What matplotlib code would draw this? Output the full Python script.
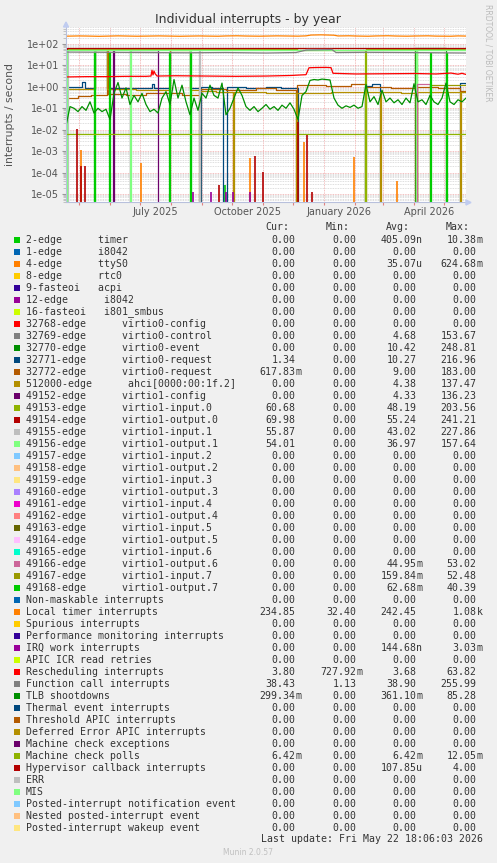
import numpy as np
import matplotlib
matplotlib.use("Agg")
import matplotlib.pyplot as plt
from matplotlib.patches import Rectangle
from matplotlib.ticker import FixedLocator, NullFormatter, FuncFormatter

W, H = 497, 863

# ---------------- legend table ----------------
names = [
    "2-edge      timer", "1-edge      i8042", "4-edge      ttyS0", "8-edge      rtc0",
    "9-fasteoi   acpi", "12-edge      i8042", "16-fasteoi   i801_smbus",
    "32768-edge      virtio0-config", "32769-edge      virtio0-control",
    "32770-edge      virtio0-event", "32771-edge      virtio0-request",
    "32772-edge      virtio0-request", "512000-edge      ahci[0000:00:1f.2]",
    "49152-edge      virtio1-config", "49153-edge      virtio1-input.0",
    "49154-edge      virtio1-output.0", "49155-edge      virtio1-input.1",
    "49156-edge      virtio1-output.1", "49157-edge      virtio1-input.2",
    "49158-edge      virtio1-output.2", "49159-edge      virtio1-input.3",
    "49160-edge      virtio1-output.3", "49161-edge      virtio1-input.4",
    "49162-edge      virtio1-output.4", "49163-edge      virtio1-input.5",
    "49164-edge      virtio1-output.5", "49165-edge      virtio1-input.6",
    "49166-edge      virtio1-output.6", "49167-edge      virtio1-input.7",
    "49168-edge      virtio1-output.7",
    "Non-maskable interrupts", "Local timer interrupts", "Spurious interrupts",
    "Performance monitoring interrupts", "IRQ work interrupts", "APIC ICR read retries",
    "Rescheduling interrupts", "Function call interrupts", "TLB shootdowns",
    "Thermal event interrupts", "Threshold APIC interrupts",
    "Deferred Error APIC interrupts", "Machine check exceptions", "Machine check polls",
    "Hypervisor callback interrupts", "ERR", "MIS",
    "Posted-interrupt notification event", "Nested posted-interrupt event",
    "Posted-interrupt wakeup event",
]

palette = ["#00CC00", "#0066B3", "#FF8000", "#FFCC00", "#330099", "#990099", "#CCFF00",
           "#FF0000", "#808080", "#008F00", "#00487D", "#B35A00", "#B38F00", "#6B006B",
           "#8FB300", "#B30000", "#BEBEBE", "#80FF80", "#80C9FF", "#FFC080", "#FFE680",
           "#AA80FF", "#EE00CC", "#FF8080", "#666600", "#FFBFFF", "#00FFCC", "#CC6699",
           "#999900"]

cur = ["0.00", "0.00", "0.00", "0.00", "0.00", "0.00", "0.00", "0.00", "0.00", "0.00",
       "1.34", "617.83m", "0.00", "0.00", "60.68", "69.98", "55.87", "54.01", "0.00", "0.00",
       "0.00", "0.00", "0.00", "0.00", "0.00", "0.00", "0.00", "0.00", "0.00", "0.00",
       "0.00", "234.85", "0.00", "0.00", "0.00", "0.00", "3.80", "38.43", "299.34m", "0.00",
       "0.00", "0.00", "0.00", "6.42m", "0.00", "0.00", "0.00", "0.00", "0.00", "0.00"]
mins = ["0.00"] * 31 + ["32.40", "0.00", "0.00", "0.00", "0.00", "727.92m", "1.13"] + ["0.00"] * 12
avgs = ["405.09n", "0.00", "35.07u", "0.00", "0.00", "0.00", "0.00", "0.00", "4.68", "10.42",
        "10.27", "9.00", "4.38", "4.33", "48.19", "55.24", "43.02", "36.97", "0.00", "0.00",
        "0.00", "0.00", "0.00", "0.00", "0.00", "0.00", "0.00", "44.95m", "159.84m", "62.68m",
        "0.00", "242.45", "0.00", "0.00", "144.68n", "0.00", "3.68", "38.90", "361.10m", "0.00",
        "0.00", "0.00", "0.00", "6.42m", "107.85u", "0.00", "0.00", "0.00", "0.00", "0.00"]
maxs = ["10.38m", "0.00", "624.68m", "0.00", "0.00", "0.00", "0.00", "0.00", "153.67", "248.81",
        "216.96", "183.00", "137.47", "136.23", "203.56", "241.21", "227.86", "157.64", "0.00",
        "0.00", "0.00", "0.00", "0.00", "0.00", "0.00", "0.00", "0.00", "53.02", "52.48", "40.39",
        "0.00", "1.08k", "0.00", "0.00", "3.03m", "0.00", "63.82", "255.99", "85.28", "0.00",
        "0.00", "0.00", "0.00", "12.05m", "4.00", "0.00", "0.00", "0.00", "0.00", "0.00"]

# ---------------- time axis (days since graph start) ----------------
start = np.datetime64("2025-04-17T18:06")
month_starts = np.array(["2025-05-01", "2025-06-01", "2025-07-01", "2025-08-01", "2025-09-01",
                         "2025-10-01", "2025-11-01", "2025-12-01", "2026-01-01", "2026-02-01",
                         "2026-03-01", "2026-04-01", "2026-05-01"], dtype="datetime64[m]")
label_dates = np.array(["2025-07-16", "2025-10-16", "2026-01-16", "2026-04-16"], dtype="datetime64[m]")
label_texts = ["July 2025", "October 2025", "January 2026", "April 2026"]

# ---------------- series (x = days since start) ----------------
# Local timer interrupts
ltimer_x = [0, 12, 20, 33, 40, 52, 60, 71, 80, 93, 100, 114, 120, 133, 140, 152, 160, 171, 180,
            193, 200, 211, 220, 232, 240, 245, 255, 268, 272, 283, 290, 302, 310, 322, 330, 341,
            350, 362, 370, 385, 392, 400]
ltimer_y = [232, 238, 236, 229, 233, 240, 236, 231, 234, 239, 236, 230, 233, 238, 235, 231, 238,
            242, 236, 232, 235, 240, 237, 233, 240, 262, 268, 258, 238, 242, 236, 231, 238, 243,
            236, 232, 237, 241, 234, 231, 239, 235]

# Rescheduling interrupts
resched_x = [0, 20, 40, 60, 80, 85, 86, 87, 88, 89, 91, 110, 140, 170, 200, 225, 240, 243, 250,
             260, 265, 267, 290, 320, 350, 370, 385, 392, 396, 400]
resched_y = [2.9, 3.0, 3.0, 3.1, 3.1, 3.2, 6.0, 3.6, 5.5, 4.2, 3.2, 3.3, 3.2, 3.1, 3.2, 3.4, 3.7,
             7.8, 8.0, 8.1, 7.9, 4.3, 4.0, 4.1, 4.2, 4.0, 4.4, 3.9, 4.3, 3.8]

# Function call interrupts
fcall_x = [0, 40, 80, 120, 160, 200, 230, 240, 266, 270, 300, 340, 370, 400]
fcall_y = [42, 41, 40, 39, 40, 38, 40, 52, 55, 40, 41, 40, 39, 38]

# TLB shootdowns (sampled every 4 days)
tlb_x = list(range(0, 401, 4))
tlb_y = [0.015, 0.12, 0.1, 0.07, 0.12, 0.08, 0.2, 0.06, 0.1, 0.07, 0.09, 0.03, 0.5, 1.6, 0.3, 0.9,
         0.15, 0.4, 0.2, 0.5, 0.15, 0.07, 0.09, 0.06, 0.3, 0.6, 0.15, 2.2, 0.3, 1.2, 0.2, 0.05,
         0.3, 0.08, 0.5, 0.3, 1.2, 0.4, 0.3, 1.5, 0.05, 0.1, 0.3, 0.9, 0.4, 0.12, 0.08, 0.12,
         0.07, 0.1, 0.15, 0.09, 0.12, 0.08, 0.14, 0.1, 0.18, 0.09, 0.03, 0.4, 0.6, 2.0, 2.2, 2.1,
         2.3, 2.2, 2.1, 0.3, 0.14, 0.1, 0.13, 0.11, 0.14, 0.1, 0.12, 1.3, 0.2, 0.35, 0.15, 0.7,
         0.2, 0.3, 0.18, 0.25, 0.15, 0.3, 0.18, 1.4, 0.2, 0.25, 0.15, 0.4, 0.2, 0.15, 0.3, 1.5,
         0.2, 0.15, 0.25, 0.2, 0.3]

# Machine check polls
mcpoll_x = [0, 400]
mcpoll_y = [0.0064, 0.0064]

# virtio queues (step series)
in0_x = [0, 1, 120, 231, 299, 300, 350, 351, 400]
in0_y = [0, 56, 58, 55, 0, 58, 0, 60, 61]
out0_x = [0, 1, 80, 160, 240, 266, 320, 400]
out0_y = [0, 62, 64, 62, 68, 66, 68, 70]
in1_x = [0, 2, 133, 134, 240, 266, 400]
in1_y = [0, 50, 0, 52, 56, 54, 56]
out1_x = [0, 1, 28, 29, 64, 65, 124, 125, 350, 351, 400]
out1_y = [0, 52, 0, 50, 0, 52, 0, 50, 0, 54, 54]
out7_x = [0, 28, 29, 43, 44, 103, 104, 124, 125, 364, 365, 380, 381, 400]
out7_y = [0, 40, 0, 40, 0, 40, 0, 40, 0, 40, 0, 40, 0, 0]
cfg1_x = [0, 47, 48, 64, 92, 400]
cfg1_y = [0, 55, 0, 55, 0, 0]
req1_x = [0, 10, 16, 19, 29, 41, 55, 70, 86, 88, 104, 124, 134, 135, 146, 157, 161, 180, 200,
          215, 232, 299, 306, 314, 394, 400]
req1_y = [1.0, 0.95, 1.7, 0.9, 58, 0.9, 0.85, 0.92, 1.3, 0.88, 58, 0.9, 0, 0.95, 0.88, 0, 0.95,
          0.9, 0.97, 0.92, 0, 1.1, 1.4, 0, 1.5, 1.34]
req2_x = [0, 12, 25, 41, 42, 60, 80, 100, 116, 134, 160, 190, 210, 230, 231, 260, 285, 300, 325,
          350, 351, 372, 394, 400]
req2_y = [0.3, 0.36, 0.42, 50, 0.45, 0.4, 0.5, 0.5, 0.42, 0.8, 0.72, 0.85, 0.75, 0, 1.2, 1.05,
          1.3, 1.0, 0.9, 0, 1.0, 0.85, 0.62, 0.62]
ahci_x = [0, 1, 29, 41, 70, 104, 124, 133, 134, 150, 167, 168, 200, 230, 231, 265, 299, 300, 314,
          315, 335, 350, 351, 394, 395, 400]
ahci_y = [0, 0.8, 55, 0.8, 0.7, 55, 0.75, 0, 0.65, 0.6, 0, 0.55, 0.5, 0, 0.5, 0.6, 0, 0.55, 0,
          0.55, 0.5, 0, 0.6, 0, 0.55, 0.55]
event_x = [0, 349, 380, 400]
event_y = [0, 65, 0, 0]
out6_x = [0, 351, 364, 400]
out6_y = [0, 1.3, 0, 0]
in7_x = [0, 364, 400]
in7_y = [0, 1.2, 1.2]

# short spikes near the bottom
hyper_x = [10.5, 14.7, 19, 153, 189, 197, 232, 241, 246]
hyper_y = [0.0105, 2e-4, 2e-4, 2.6e-5, 5.9e-4, 1.1e-4, 0.023, 5.5e-3, 1.3e-5]
tty_x = [15, 75, 184, 238, 288, 331]
tty_y = [1.1e-3, 2.8e-4, 5e-4, 2.8e-3, 5.5e-4, 4e-5]
irqwork_x = [127, 145, 160, 167, 184]
irqwork_y = [1.3e-5, 1.3e-5, 1.3e-5, 1.3e-5, 1.3e-5]
timer_x = [159]
timer_y = [2.6e-5]


def fx(px):
    return px / W


def fy(py):
    return 1 - py / H


def col(i):
    return palette[i % len(palette)]


fig = plt.figure(figsize=(W / 100, H / 100), dpi=100, facecolor="#F0F0F0")
ax = fig.add_axes([fx(66), fy(202.5), 400 / W, 175 / H])
ax.set_facecolor("white")
ax.set_yscale("log", nonpositive="clip")
ax.set_xlim(0, 400)
ax.set_ylim(4.0e-6, 590)

# grid
dec = [10.0 ** k for k in range(-5, 3)]
minor = [m * 10.0 ** k for k in range(-6, 3) for m in range(2, 10)]
for v in minor:
    ax.axhline(v, color="#d4d4d4", lw=0.6, ls=(0, (1, 1)), zorder=0)
for v in dec:
    ax.axhline(v, color="#f0a8a8", lw=0.6, ls=(0, (1, 1)), zorder=0)
ms_days = (month_starts - start) / np.timedelta64(1, "D")
for d in ms_days:
    ax.axvline(d, color="#f0a8a8", lw=0.6, ls=(0, (1, 1)), zorder=0)

lw = 0.9
step_series = [
    (9, event_x, event_y), (10, req1_x, req1_y), (11, req2_x, req2_y), (12, ahci_x, ahci_y),
    (13, cfg1_x, cfg1_y), (14, in0_x, in0_y), (15, out0_x, out0_y), (16, in1_x, in1_y),
    (17, out1_x, out1_y), (27, out6_x, out6_y), (28, in7_x, in7_y), (29, out7_x, out7_y),
]
line_series = [
    (31, ltimer_x, ltimer_y), (36, resched_x, resched_y), (37, fcall_x, fcall_y),
    (38, tlb_x, tlb_y), (43, mcpoll_x, mcpoll_y),
]
spike_series = [(0, timer_x, timer_y), (2, tty_x, tty_y), (34, irqwork_x, irqwork_y),
                (44, hyper_x, hyper_y)]

items = [(i, x, y, "s") for i, x, y in step_series] + \
        [(i, x, y, "l") for i, x, y in line_series] + \
        [(i, x, y, "v") for i, x, y in spike_series]
items.sort(key=lambda t: t[0])
for i, x, y, kind in items:
    if kind == "s":
        ax.plot(x, y, color=col(i), lw=lw, drawstyle="steps-post", zorder=2)
    elif kind == "l":
        ax.plot(x, y, color=col(i), lw=lw, zorder=2)
    else:
        ax.vlines(x, 1e-9, y, color=col(i), lw=1.2, zorder=2)

# axes styling
for s in ["top", "right"]:
    ax.spines[s].set_visible(False)
for s in ["left", "bottom"]:
    ax.spines[s].set_color("#b8c0dc")
    ax.spines[s].set_linewidth(0.8)
ax.yaxis.set_major_locator(FixedLocator(dec))
ax.yaxis.set_major_formatter(FuncFormatter(lambda v, p: "%.0e" % v))
ax.yaxis.set_minor_locator(FixedLocator(minor))
ax.yaxis.set_minor_formatter(NullFormatter())
ax.tick_params(axis="y", which="major", length=3, color="#999999", labelsize=7, labelcolor="#555555", pad=2)
ax.tick_params(axis="y", which="minor", length=2, color="#bbbbbb")
ax.xaxis.set_major_locator(FixedLocator(ms_days))
ax.xaxis.set_major_formatter(NullFormatter())
ax.tick_params(axis="x", which="major", length=2, color="#e08080")
for d, t in zip((label_dates - start) / np.timedelta64(1, "D"), label_texts):
    ax.text(d, -0.055, t, transform=ax.get_xaxis_transform(), ha="center", va="center",
            fontsize=7, color="#555555")

# arrows at axis ends
fig.patches.append(plt.Polygon([[fx(63.5), fy(27)], [fx(68.5), fy(27)], [fx(66), fy(22)]],
                               closed=True, color="#c0ccf0", transform=fig.transFigure))
fig.patches.append(plt.Polygon([[fx(466), fy(200)], [fx(466), fy(205)], [fx(471), fy(202.5)]],
                               closed=True, color="#c0ccf0", transform=fig.transFigure))

# titles
fig.text(fx(248), fy(19), "Individual interrupts - by year", ha="center", va="center",
         fontsize=9, color="#333333")
fig.text(fx(10), fy(115), "interrupts / second", rotation=90, ha="center", va="center",
         fontsize=7.8, color="#555555")
fig.text(fx(488), fy(53), "RRDTOOL / TOBI OETIKER", rotation=270, ha="center", va="center",
         fontsize=5.5, color="#bbbbbb")

# legend
mono = "DejaVu Sans Mono"
fs = 7.14
tc = "#333333"
for hx, ht in zip([289, 350, 410, 470], ["Cur:", "Min:", "Avg:", "Max:"]):
    fig.text(fx(hx), fy(227), ht, ha="right", va="center", family=mono, fontsize=fs, color=tc)

col_right = [295.3, 356.3, 416.3, 476.7]
for i, name in enumerate(names):
    yy = 239.7 + 12.0 * i
    fig.patches.append(Rectangle((fx(14), fy(yy + 3)), 6 / W, 6 / H, transform=fig.transFigure,
                                 facecolor=col(i), edgecolor="none"))
    fig.text(fx(26), fy(yy), name, ha="left", va="center", family=mono, fontsize=fs, color=tc)
    for cx, val in zip(col_right, [cur[i], mins[i], avgs[i], maxs[i]]):
        num, suf = (val[:-1], val[-1]) if val[-1].isalpha() else (val, "")
        fig.text(fx(cx), fy(yy), num, ha="right", va="center", family=mono, fontsize=fs, color=tc)
        if suf:
            fig.text(fx(cx), fy(yy), suf, ha="left", va="center", family=mono, fontsize=fs, color=tc)

fig.text(fx(483), fy(839), "Last update: Fri May 22 18:06:03 2026", ha="right", va="center",
         family=mono, fontsize=fs, color=tc)
fig.text(fx(248), fy(852), "Munin 2.0.57", ha="center", va="center", fontsize=5.5, color="#c0c0c0")

fig.savefig("out.png", dpi=100, facecolor=fig.get_facecolor())
